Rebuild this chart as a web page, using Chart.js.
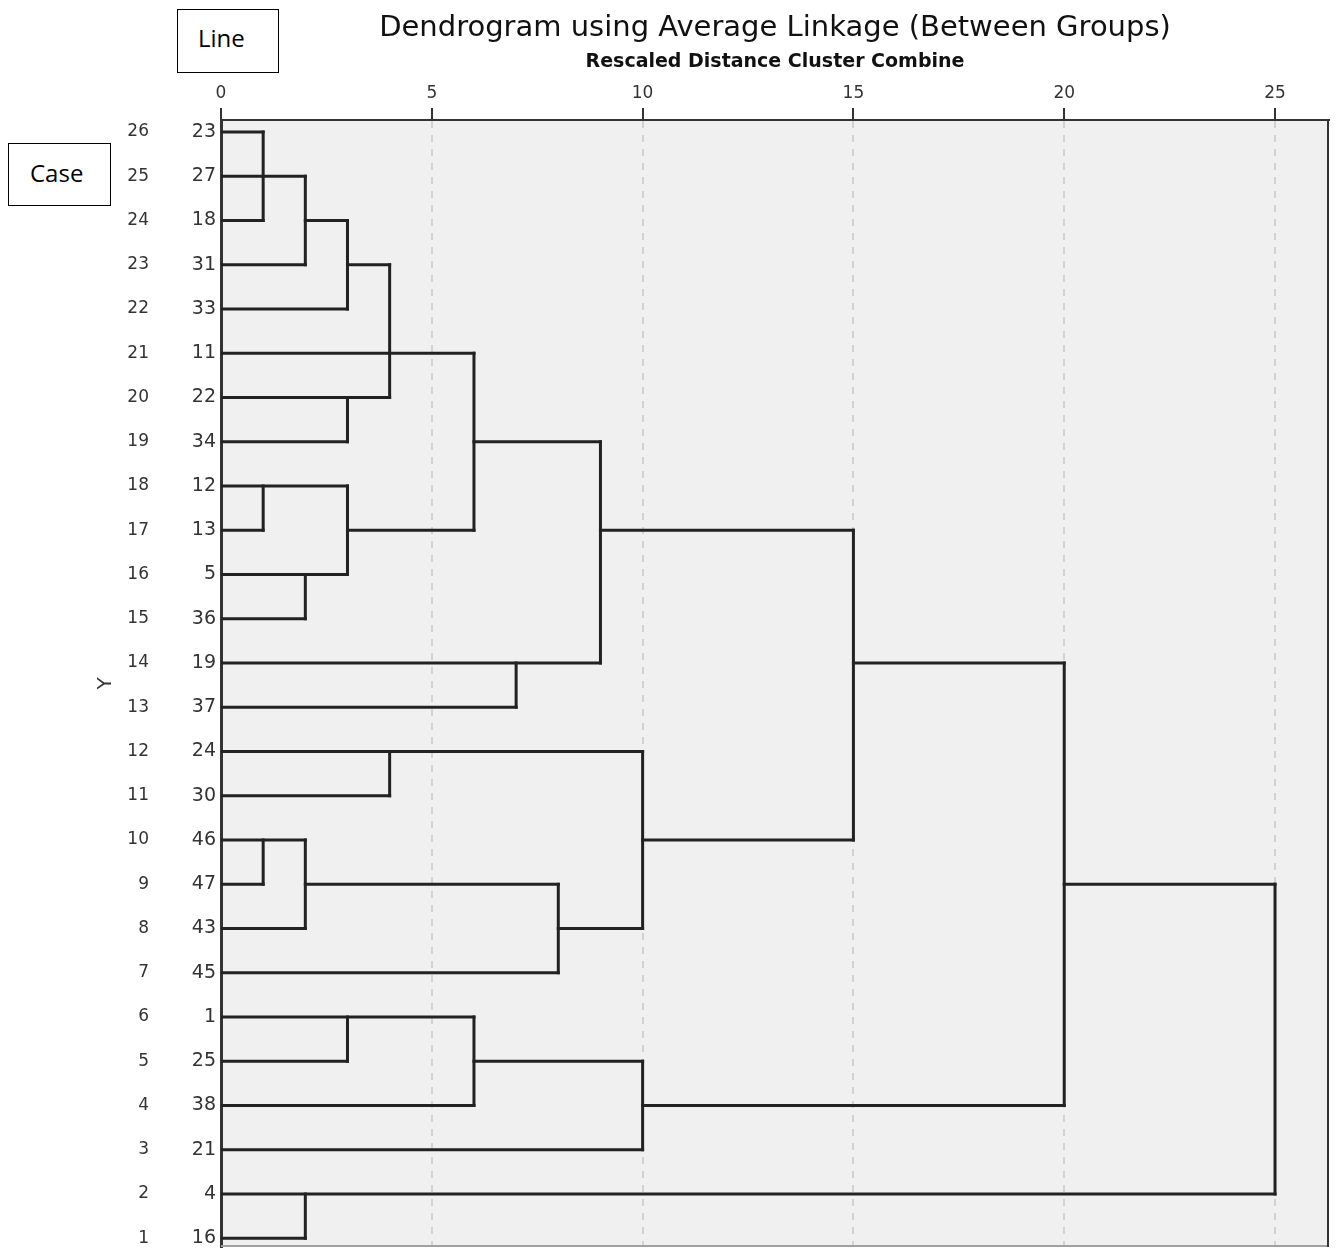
<!DOCTYPE html>
<html>
<head>
<meta charset="utf-8">
<script src="https://cdn.jsdelivr.net/npm/chart.js@4.4.1/dist/chart.umd.min.js"></script>
<style>
  body { margin: 0; background: #fff; }
  #wrap { position: relative; width: 1336px; height: 1248px; }
  .tag {
    position: absolute; border: 1px solid #000; background: #fff;
    font-family: 'Open Sans', sans-serif; font-size: 24px; color: #000;
    box-sizing: border-box; line-height: 1;
  }
</style>
</head>
<body>
<div id="wrap">
  <canvas id="dendro"></canvas>
  <div class="tag" style="left:177px; top:9px; width:102px; height:64px; padding:16px 0 0 20px;">Line</div>
  <div class="tag" style="left:8px; top:143px; width:103px; height:63px; padding:17px 0 0 21px;">Case</div>
</div>
<script>
// rows are numbered 1 (bottom) .. 26 (top)
const rowNumbers = [1, 2, 3, 4, 5, 6, 7, 8, 9, 10, 11, 12, 13, 14, 15, 16, 17, 18, 19, 20, 21, 22, 23, 24, 25, 26];
const caseLabels = ['16', '4', '21', '38', '25', '1', '45', '43', '47', '46', '30', '24', '37',
                    '19', '36', '5', '13', '12', '34', '22', '11', '33', '31', '18', '27', '23'];
const distanceTicks = [0, 5, 10, 15, 20, 25];

// [row, from distance, to distance]
const horizontalLinks = [
  [26, 0, 1], [25, 0, 2], [24, 0, 1], [24, 2, 3], [23, 0, 2], [23, 3, 4], [22, 0, 3],
  [21, 0, 6], [20, 0, 4], [19, 0, 3], [19, 6, 9], [18, 0, 3], [17, 0, 1], [17, 3, 6],
  [17, 9, 15], [16, 0, 3], [15, 0, 2], [14, 0, 9], [14, 15, 20], [13, 0, 7], [12, 0, 10],
  [11, 0, 4], [10, 0, 2], [10, 10, 15], [9, 0, 1], [9, 2, 8], [9, 20, 25], [8, 0, 2],
  [8, 8, 10], [7, 0, 8], [6, 0, 6], [5, 0, 3], [5, 6, 10], [4, 0, 6], [4, 10, 20],
  [3, 0, 10], [2, 0, 25], [1, 0, 2]
];
// [distance, from row, to row]
const verticalLinks = [
  [1, 26, 24], [2, 25, 23], [3, 24, 22], [4, 23, 20], [3, 20, 19], [6, 21, 17], [3, 18, 16],
  [1, 18, 17], [2, 16, 15], [9, 19, 14], [7, 14, 13], [15, 17, 10], [10, 12, 8], [4, 12, 11],
  [1, 10, 9], [2, 10, 8], [8, 9, 7], [20, 14, 4], [3, 6, 5], [6, 6, 4], [10, 5, 3],
  [25, 9, 2], [2, 2, 1]
];

const lineStyle = {
  showLine: true, borderColor: '#222', borderWidth: 3, pointRadius: 0,
  borderCapStyle: 'square', xAxisID: 'x', yAxisID: 'y'
};
const datasets = [
  ...horizontalLinks.map(([r, a, b]) => ({ ...lineStyle, data: [{ x: a, y: r }, { x: b, y: r }] })),
  ...verticalLinks.map(([d, a, b]) => ({ ...lineStyle, data: [{ x: d, y: a }, { x: d, y: b }] }))
];

// plot background + right/bottom frame
const plotFrame = {
  id: 'plotFrame',
  beforeDraw(chart) {
    const { ctx, chartArea: a } = chart;
    ctx.save();
    ctx.fillStyle = '#f0f0f0';
    ctx.fillRect(a.left, a.top, a.right - a.left, a.bottom - a.top);
    ctx.restore();
  },
  afterDraw(chart) {
    const { ctx, chartArea: a } = chart;
    ctx.save();
    ctx.strokeStyle = '#a0a0a0';
    ctx.lineWidth = 2;
    ctx.beginPath();
    ctx.moveTo(a.left, a.bottom - 1);
    ctx.lineTo(a.right, a.bottom - 1);
    ctx.stroke();
    ctx.strokeStyle = '#333';
    ctx.beginPath();
    ctx.moveTo(a.right - 1, a.top);
    ctx.lineTo(a.right - 1, a.bottom);
    ctx.stroke();
    ctx.restore();
  }
};

const rowTicks = scale => { scale.ticks = rowNumbers.map(v => ({ value: v })); };
const noEdgePadding = w => scale => {
  if (w) scale.width = w;
  scale.paddingTop = 0; scale.paddingBottom = 0;
};

new Chart(document.getElementById('dendro'), {
  type: 'scatter',
  data: { datasets },
  plugins: [plotFrame],
  options: {
    responsive: true,
    maintainAspectRatio: false,
    animation: false,
    layout: { padding: { left: 0, right: 7, top: 0, bottom: 1 } },
    plugins: {
      legend: { display: false },
      tooltip: { enabled: false },
      title: {
        display: true,
        text: 'Dendrogram using Average Linkage (Between Groups)',
        fullSize: false,
        color: '#111',
        font: { family: 'DejaVu Sans', size: 29, weight: 'normal' },
        padding: { top: 11, bottom: 0 }
      },
      subtitle: {
        display: true,
        text: 'Rescaled Distance Cluster Combine',
        fullSize: false,
        color: '#111',
        font: { family: 'DejaVu Sans', size: 19, weight: 'bold' },
        padding: { top: 5, bottom: 0 }
      }
    },
    scales: {
      x: {
        type: 'linear',
        position: 'top',
        min: 0,
        max: 26.28,
        afterBuildTicks: scale => { scale.ticks = distanceTicks.map(v => ({ value: v })); },
        afterFit: scale => { scale.height = 46.4; scale.paddingLeft = 0; scale.paddingRight = 0; },
        ticks: {
          padding: 4,
          color: '#333',
          font: { family: 'DejaVu Sans', size: 17 }
        },
        grid: {
          color: ctx => (ctx.tick && ctx.tick.value === 0 ? 'rgba(0,0,0,0)' : '#d2d2d2'),
          lineWidth: 2,
          tickColor: '#333',
          tickWidth: 2,
          tickLength: 12
        },
        border: { display: true, color: '#333', width: 2, dash: [7, 7] }
      },
      y: {
        type: 'linear',
        position: 'left',
        weight: 0,
        min: 0.8,
        max: 26.27,
        afterBuildTicks: rowTicks,
        afterFit: noEdgePadding(61),
        ticks: {
          padding: 5,
          color: '#333',
          font: { family: 'DejaVu Sans', size: 19 },
          callback: v => caseLabels[v - 1]
        },
        grid: { drawOnChartArea: false, drawTicks: false },
        border: { display: true, color: '#333', width: 3 }
      },
      yOuter: {
        type: 'linear',
        position: 'left',
        weight: 1,
        min: 0.8,
        max: 26.27,
        afterBuildTicks: rowTicks,
        afterFit: noEdgePadding(160),
        ticks: {
          padding: 11,
          color: '#333',
          font: { family: 'DejaVu Sans', size: 17 }
        },
        grid: { display: false, drawTicks: false },
        border: { display: false },
        title: {
          display: true,
          text: 'Y',
          color: '#333',
          font: { family: 'DejaVu Sans', size: 20 },
          padding: { top: 94, bottom: 0 }
        }
      }
    }
  }
});
</script>
</body>
</html>
